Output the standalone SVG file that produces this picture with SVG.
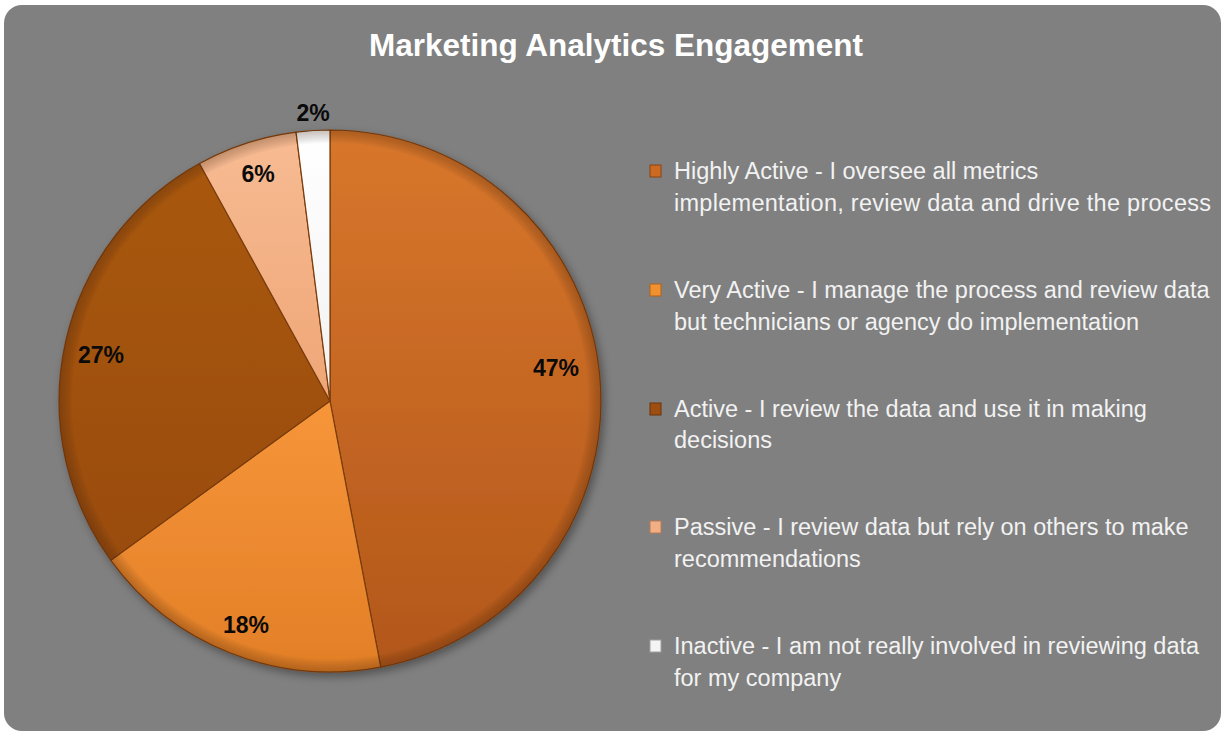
<svg xmlns="http://www.w3.org/2000/svg" width="1225" height="732" viewBox="0 0 1225 732">
  <defs>
    <style>
      .title { font-family: "Liberation Sans", Arial, sans-serif; font-weight: bold; font-size: 31.5px; fill: #ffffff; }
      .pct { font-family: "Liberation Sans", Arial, sans-serif; font-weight: bold; font-size: 23px; fill: #0a0a0a; text-anchor: middle; }
      .leg { font-family: "Liberation Sans", Arial, sans-serif; font-size: 23.5px; fill: #f2f2f2; }
      .slice { stroke: #7a3c0c; stroke-width: 1.2; stroke-linejoin: round; }
      .mk { stroke-width: 1; }
    </style>
    <linearGradient id="g47" x1="0" y1="0" x2="0" y2="1">
      <stop offset="0" stop-color="#D8772C"/>
      <stop offset="1" stop-color="#B2571A"/>
    </linearGradient>
    <linearGradient id="g18" x1="0" y1="0" x2="0" y2="1">
      <stop offset="0" stop-color="#F7953A"/>
      <stop offset="1" stop-color="#E27F27"/>
    </linearGradient>
    <linearGradient id="g27" x1="0" y1="0" x2="0" y2="1">
      <stop offset="0" stop-color="#A9580F"/>
      <stop offset="1" stop-color="#9A4C0E"/>
    </linearGradient>
    <linearGradient id="g6" x1="0" y1="0" x2="0" y2="1">
      <stop offset="0" stop-color="#F7BB93"/>
      <stop offset="1" stop-color="#EFA676"/>
    </linearGradient>
    <linearGradient id="g2" x1="0" y1="0" x2="0" y2="1">
      <stop offset="0" stop-color="#FFFFFF"/>
      <stop offset="1" stop-color="#F2F2F2"/>
    </linearGradient>
    <radialGradient id="rim" cx="330" cy="401" r="271" gradientUnits="userSpaceOnUse">
      <stop offset="0.95" stop-color="#000" stop-opacity="0"/>
      <stop offset="1" stop-color="#3a1a00" stop-opacity="0.28"/>
    </radialGradient>
    <filter id="shadow" x="-10%" y="-10%" width="120%" height="120%">
      <feDropShadow dx="3" dy="4" stdDeviation="4" flood-color="#000" flood-opacity="0.35"/>
    </filter>
  </defs>

  <rect id="background" x="4" y="5" width="1217" height="726" rx="18" ry="18" fill="#808080"/>

  <text id="title" class="title" x="616" y="56" text-anchor="middle">Marketing Analytics Engagement</text>

  <g id="pie" filter="url(#shadow)">
    <g id="slice-highly-active">
      <path class="slice" fill="url(#g47)" d="M330,401 L330,130 A271,271 0 0 1 380.78,667.2 Z"/>
    </g>
    <g id="slice-very-active">
      <path class="slice" fill="url(#g18)" d="M330,401 L380.78,667.2 A271,271 0 0 1 110.76,560.29 Z"/>
    </g>
    <g id="slice-active">
      <path class="slice" fill="url(#g27)" d="M330,401 L110.76,560.29 A271,271 0 0 1 199.45,163.52 Z"/>
    </g>
    <g id="slice-passive">
      <path class="slice" fill="url(#g6)" d="M330,401 L199.45,163.52 A271,271 0 0 1 296.04,132.14 Z"/>
    </g>
    <g id="slice-inactive">
      <path class="slice" fill="url(#g2)" stroke="#9a9a9a" d="M330,401 L296.04,132.14 A271,271 0 0 1 330,130 Z"/>
    </g>
    <circle cx="330" cy="401" r="271" fill="url(#rim)" pointer-events="none"/>
  </g>

  <g id="labels">
    <text class="pct" x="556" y="376">47%</text>
    <text class="pct" x="246" y="633">18%</text>
    <text class="pct" x="101" y="363">27%</text>
    <text class="pct" x="258" y="182">6%</text>
    <text class="pct" x="313" y="121">2%</text>
  </g>

  <g id="legend">
    <g id="legend-highly-active">
      <rect class="mk" x="650" y="165" width="11" height="12" fill="#CC6A22" stroke="#8a4312"/>
      <text class="leg" x="674" y="179">Highly Active - I oversee all metrics</text>
      <text class="leg" x="674" y="211" textLength="537" lengthAdjust="spacing">implementation, review data and drive the process</text>
    </g>
    <g id="legend-very-active">
      <rect class="mk" x="650" y="284" width="11" height="12" fill="#F0902F" stroke="#b0621a"/>
      <text class="leg" x="674" y="298">Very Active - I manage the process and review data</text>
      <text class="leg" x="674" y="330">but technicians or agency do implementation</text>
    </g>
    <g id="legend-active">
      <rect class="mk" x="650" y="403" width="11" height="12" fill="#9E4E10" stroke="#6a330a"/>
      <text class="leg" x="674" y="417">Active - I review the data and use it in making</text>
      <text class="leg" x="674" y="448">decisions</text>
    </g>
    <g id="legend-passive">
      <rect class="mk" x="650" y="521" width="11" height="12" fill="#F2AE84" stroke="#b87a55"/>
      <text class="leg" x="674" y="535">Passive - I review data but rely on others to make</text>
      <text class="leg" x="674" y="567">recommendations</text>
    </g>
    <g id="legend-inactive">
      <rect class="mk" x="650" y="640" width="11" height="12" fill="#F4F4F4" stroke="#a0a0a0"/>
      <text class="leg" x="674" y="654">Inactive - I am not really involved in reviewing data</text>
      <text class="leg" x="674" y="686">for my company</text>
    </g>
  </g>
</svg>
